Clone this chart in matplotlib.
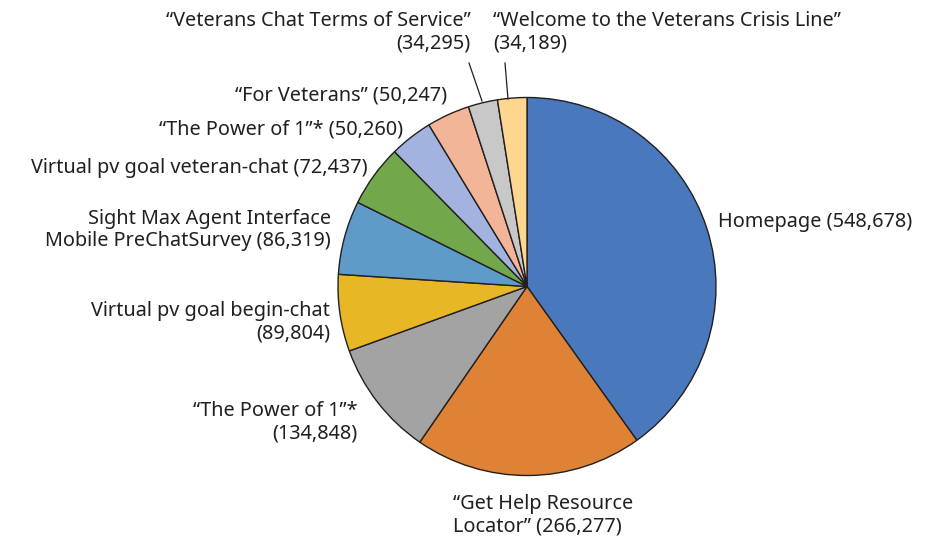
import matplotlib.pyplot as plt

labels = [
    "Homepage",
    "\u201cGet Help Resource\nLocator\u201d",
    "\u201cThe Power of 1\u201d*",
    "Virtual pv goal begin-chat",
    "Sight Max Agent Interface\nMobile PreChatSurvey",
    "Virtual pv goal veteran-chat",
    "\u201cThe Power of 1\u201d*",
    "\u201cFor Veterans\u201d",
    "\u201cVeterans Chat Terms of Service\u201d",
    "\u201cWelcome to the Veterans Crisis Line\u201d",
]
values = [548678, 266277, 134848, 89804, 86319, 72437, 50260, 50247, 34295, 34189]
colors = ["#4a78bd", "#de8236", "#a2a3a2", "#e8b725", "#5e9bc9",
          "#72a84b", "#a1b3de", "#f3b597", "#c8c8c8", "#fdd68f"]

ink = "#231f20"
plt.rcParams['font.family'] = ['Noto Sans', 'DejaVu Sans']

fig = plt.figure(figsize=(9.27, 5.41), dpi=100)
ax = fig.add_axes([0, 0, 1, 1])

cx, cy, r = 527, 541 - 286.5, 189
ax.pie(values, colors=colors, startangle=90, counterclock=False,
       center=(cx, cy), radius=r, frame=True,
       wedgeprops=dict(edgecolor=ink, linewidth=1))
ax.set_xlim(0, 927)
ax.set_ylim(0, 541)
ax.set_aspect('equal')
ax.axis('off')


def fmt(v):
    return "({:,})".format(v)


# label anchor (x, y from top), alignment, value on its own line
spots = [
    (718, 222, 'left', False),
    (453, 515, 'left', False),
    (358, 422, 'right', True),
    (330, 322, 'right', True),
    (331, 230, 'right', False),
    (368, 168, 'right', False),
    (403, 129, 'right', False),
    (447, 95, 'right', False),
    (471, 32, 'right', True),
    (493, 32, 'left', True),
]

for lab, val, (x, y, ha, brk) in zip(labels, values, spots):
    txt = lab + ("\n" if brk else " ") + fmt(val)
    ax.text(x, 541 - y, txt, ha=ha, va='center', fontsize=14.3,
            color=ink, linespacing=1.18, multialignment=ha)

# leader lines for the two thin slices at the top
ax.plot([469, 482], [541 - 63, 541 - 101], color=ink, lw=0.9)
ax.plot([505, 508], [541 - 63, 541 - 99], color=ink, lw=0.9)

fig.savefig("out.png", dpi=100)
